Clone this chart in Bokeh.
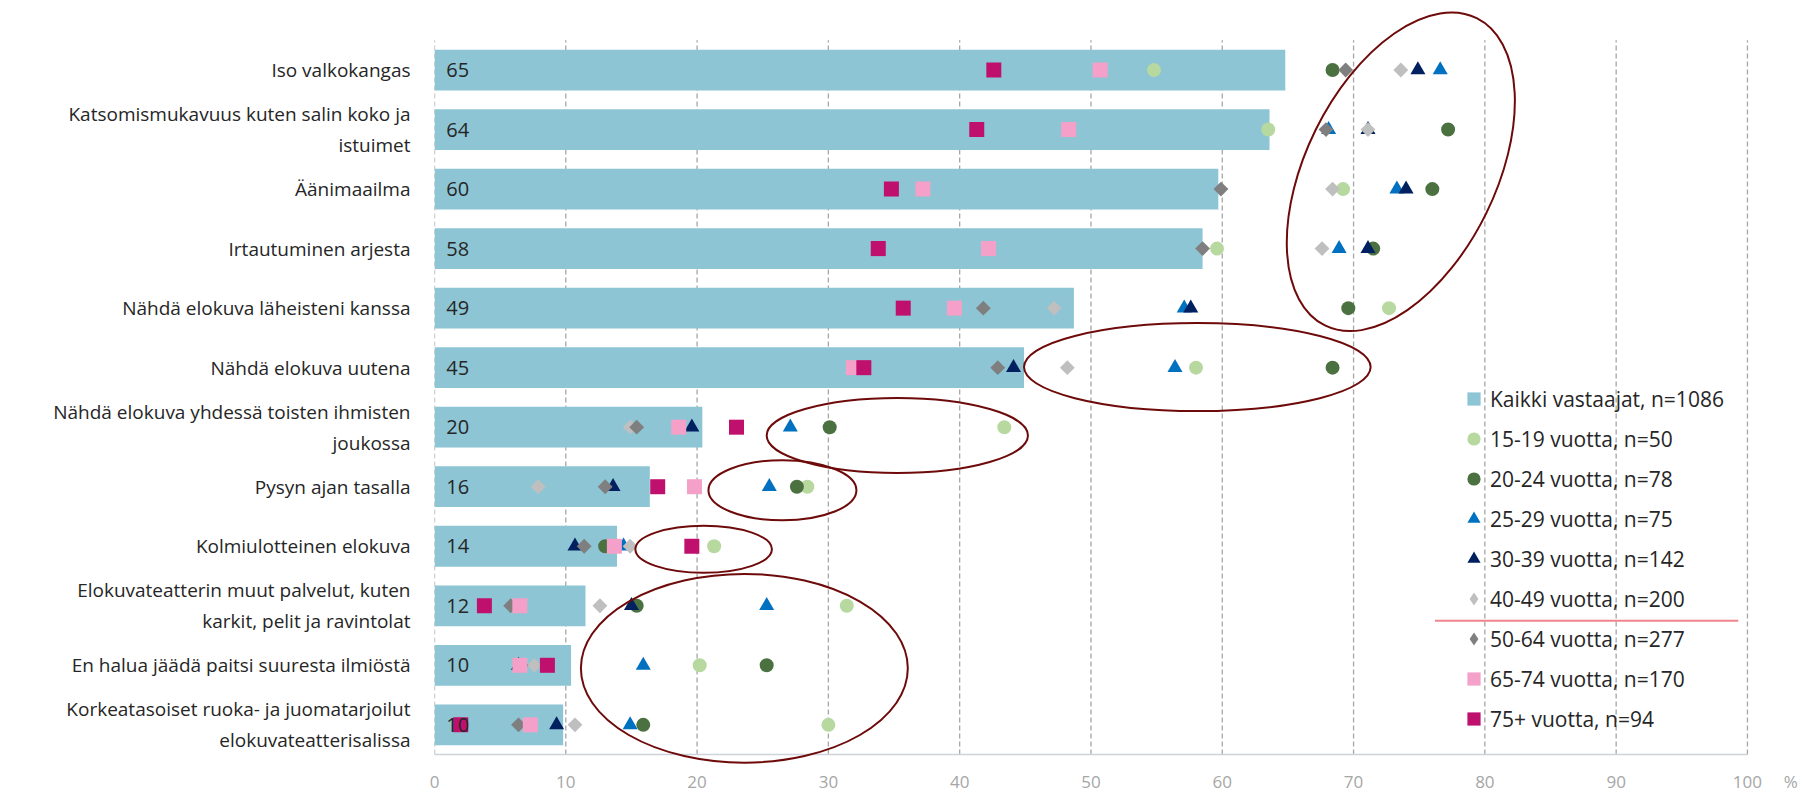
from bokeh.plotting import figure
from bokeh.models import (Range1d, FixedTicker, ColumnDataSource, Legend, LegendItem)
from bokeh.core.properties import value
from bokeh.embed import file_html
from bokeh.resources import INLINE

# ---------------- data ----------------
categories = [
    "Iso valkokangas",
    "Katsomismukavuus kuten salin koko ja\nistuimet",
    "Äänimaailma",
    "Irtautuminen arjesta",
    "Nähdä elokuva läheisteni kanssa",
    "Nähdä elokuva uutena",
    "Nähdä elokuva yhdessä toisten ihmisten\njoukossa",
    "Pysyn ajan tasalla",
    "Kolmiulotteinen elokuva",
    "Elokuvateatterin muut palvelut, kuten\nkarkit, pelit ja ravintolat",
    "En halua jäädä paitsi suuresta ilmiöstä",
    "Korkeatasoiset ruoka- ja juomatarjoilut\nelokuvateatterisalissa",
]
all_respondents = [64.8, 63.6, 59.7, 58.5, 48.7, 44.9, 20.4, 16.4, 13.9, 11.5, 10.4, 9.8]
bar_labels = ["65", "64", "60", "58", "49", "45", "20", "16", "14", "12", "10", "10"]

age_15_19 = [54.8, 63.5, 69.2, 59.6, 72.7, 58.0, 43.4, 28.4, 21.3, 31.4, 20.2, 30.0]
age_20_24 = [68.4, 77.2, 76.0, 71.5, 69.6, 68.4, 30.1, 27.6, 13.0, 15.4, 25.3, 15.9]
age_25_29 = [76.6, 68.1, 73.3, 68.9, 57.1, 56.4, 27.1, 25.5, 14.4, 25.3, 15.9, 14.9]
age_30_39 = [74.9, 71.1, 74.0, 71.1, 57.6, 44.1, 19.6, 13.6, 10.7, 15.0, 6.4, 9.3]
age_40_49 = [73.6, 71.1, 68.4, 67.6, 47.2, 48.2, 14.9, 7.9, 14.9, 12.6, 7.6, 10.7]
age_50_64 = [69.4, 67.9, 59.9, 58.5, 41.8, 42.9, 15.4, 13.0, 11.4, 5.8, 6.6, 6.4]
age_65_74 = [50.7, 48.3, 37.2, 42.2, 39.6, 31.9, 18.6, 19.8, 13.7, 6.5, 6.5, 7.3]
age_75_plus = [42.6, 41.3, 34.8, 33.8, 35.7, 32.7, 23.0, 17.0, 19.6, 3.8, 8.6, 2.0]

legend_labels = [
    "Kaikki vastaajat, n=1086",
    "15-19 vuotta, n=50",
    "20-24 vuotta, n=78",
    "25-29 vuotta, n=75",
    "30-39 vuotta, n=142",
    "40-49 vuotta, n=200",
    "50-64 vuotta, n=277",
    "65-74 vuotta, n=170",
    "75+ vuotta, n=94",
]
x_ticks = [0, 10, 20, 30, 40, 50, 60, 70, 80, 90, 100]
unit_tick = 103.3
unit_label = "%"

# highlight ellipses (centre x, centre y in row units, width, height, angle)
ell_x = [73.6, 58.1, 35.25, 26.5, 20.5, 23.6]
ell_y = [10.29, 7.01, 5.86, 4.94, 3.95, 1.95]
ell_w = [26.1, 26.4, 19.9, 11.27, 10.4, 24.9]
ell_h = [3.19, 1.48, 1.26, 1.01, 0.79, 3.17]
ell_a = [1.112, 0.0, 0.0, 0.0, 0.0, 0.0]

# ---------------- styling ----------------
BAR = "#8DC5D4"
COLORS = ["#B7D9A0", "#4B7141", "#0070C0", "#002060", "#BFBFBF", "#7F7F7F", "#F4A0C9", "#C0106E"]
TEXT = "#262626"
FONT = "Open Sans"

n = len(categories)
ypos = [n - i for i in range(n)]

p = figure(width=1800, height=795, x_range=Range1d(0, 103.66), y_range=Range1d(0.3, 13.0),
           output_backend="svg", toolbar_location=None,
           min_border_left=434, min_border_right=5, min_border_top=10, min_border_bottom=25)
p.outline_line_color = None
p.xgrid.grid_line_color = None
p.ygrid.grid_line_color = None
p.background_fill_color = "white"

# dashed vertical gridlines
p.segment(x0=x_ticks, y0=[0.5] * len(x_ticks), x1=x_ticks, y1=[n + 0.5] * len(x_ticks),
          line_color="#A6A6A6", line_width=1.3, line_dash="5 3")

# bars
bar_src = ColumnDataSource(dict(y=ypos, right=all_respondents, lab=bar_labels))
p.hbar(y="y", left=0, right="right", height=0.685, source=bar_src,
       fill_color=BAR, line_color=None)
# legend proxy for the bars (tiny, hidden at bar ends)
bar_proxy = p.scatter(x=all_respondents, y=ypos, marker="square", size=0.1,
                      fill_color=BAR, line_color=None)

# x axis line
p.segment(x0=[0], y0=[0.5], x1=[100], y1=[0.5], line_color="#CCD3DB", line_width=1.5)

series = [age_15_19, age_20_24, age_25_29, age_30_39, age_40_49, age_50_64, age_65_74, age_75_plus]
markers = ["circle", "circle", "triangle", "triangle", "square", "square", "square", "square"]
sizes = [14, 14, 15, 15, 10.5, 10.5, 15, 15]
angles = [0, 0, 0, 0, 0.7854, 0.7854, 0, 0]
legend_renderers = [bar_proxy]
for vals, m, s, a, c in zip(series, markers, sizes, angles, COLORS):
    if a != 0:
        # diamond proxy for the legend, hidden under the rotated square marks
        proxy = p.scatter(x=vals, y=ypos, marker="diamond", size=0.1, fill_color=c, line_color=None)
        legend_renderers.append(proxy)
        p.scatter(x=vals, y=ypos, marker=m, size=s, angle=a, fill_color=c, line_color=None)
    else:
        r = p.scatter(x=vals, y=ypos, marker=m, size=s, angle=a, fill_color=c, line_color=None)
        legend_renderers.append(r)

# ellipses
p.ellipse(x=ell_x, y=ell_y, width=ell_w, height=ell_h, angle=ell_a,
          fill_color=None, line_color="#6E0A0A", line_width=2)

# legend separator line
p.segment(x0=[76.2], y0=[2.747], x1=[99.3], y1=[2.747], line_color="#EF858D", line_width=2)

# bar value labels
p.text(x=0.9, y="y", text="lab", source=bar_src, text_font=value(FONT),
       text_font_size="20px", text_color=TEXT, text_baseline="middle", text_align="left")

# legend
items = [LegendItem(label=lab, renderers=[r]) for lab, r in zip(legend_labels, legend_renderers)]
legend = Legend(items=items, location=(1023, 31), padding=0, margin=0,
                border_line_color=None, background_fill_alpha=0,
                glyph_width=33, glyph_height=33, spacing=7, label_standoff=0,
                label_text_font=FONT, label_text_font_size="21px", label_text_color=TEXT)
p.add_layout(legend, "center")

# axes
p.xaxis.ticker = FixedTicker(ticks=x_ticks + [unit_tick])
p.xaxis.major_label_overrides = {unit_tick: unit_label}
p.xaxis.axis_line_color = None
p.xaxis.major_tick_line_color = None
p.xaxis.minor_tick_line_color = None
p.xaxis.major_tick_out = 0
p.xaxis.major_label_standoff = 3
p.xaxis.major_label_text_font = FONT
p.xaxis.major_label_text_font_size = "17px"
p.xaxis.major_label_text_color = "#A6A6A6"

p.yaxis.ticker = FixedTicker(ticks=ypos)
p.yaxis.major_label_overrides = {y: c for y, c in zip(ypos, categories)}
p.yaxis.axis_line_color = None
p.yaxis.major_tick_line_color = None
p.yaxis.minor_tick_line_color = None
p.yaxis.major_tick_out = 0
p.yaxis.major_label_standoff = 24
p.yaxis.major_label_text_font = FONT
p.yaxis.major_label_text_font_size = "19px"
p.yaxis.major_label_text_color = TEXT
p.yaxis.major_label_text_line_height = 1.2

open("out.html", "w").write(file_html(p, INLINE))
